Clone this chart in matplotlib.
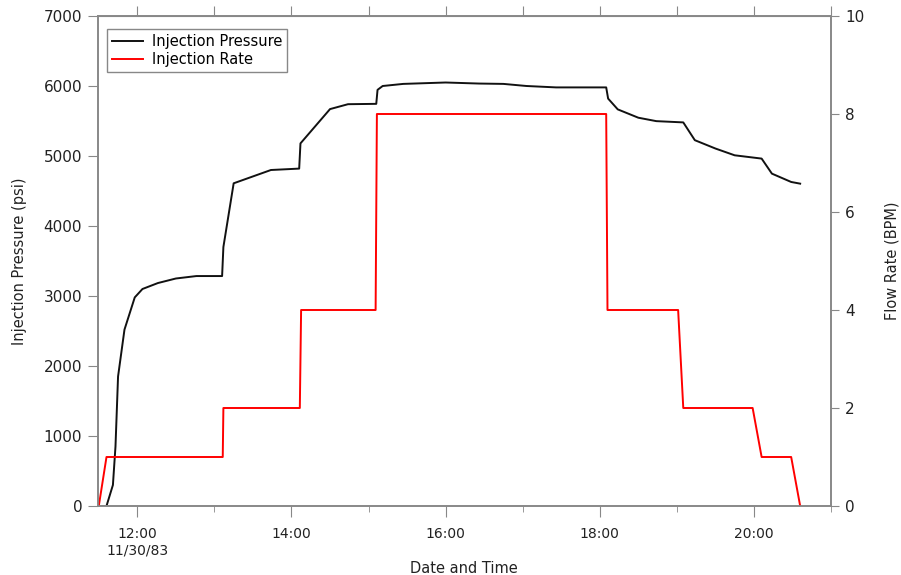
import matplotlib.pyplot as plt
import matplotlib.dates as mdates
from matplotlib.ticker import FuncFormatter, MultipleLocator
import pandas as pd

# ---------- DATA (11/30/83) ----------
pressure_time = ["11:30", "11:36", "11:41", "11:43", "11:45", "11:50", "11:58",
                 "12:04", "12:16", "12:30", "12:46", "13:06", "13:07", "13:15",
                 "13:44", "14:06", "14:07", "14:30", "14:44", "15:06", "15:07",
                 "15:11", "15:27", "16:00", "16:26", "16:45", "17:03", "17:26",
                 "18:05", "18:06:30", "18:14", "18:30", "18:44", "19:05", "19:14",
                 "19:30", "19:45", "20:06", "20:14", "20:29", "20:36"]
pressure_psi = [0, 0, 300, 850, 1850, 2520, 2980,
                3100, 3185, 3250, 3285, 3285, 3700, 4610,
                4800, 4820, 5180, 5670, 5740, 5745, 5945,
                6000, 6030, 6050, 6035, 6030, 6000, 5980,
                5980, 5820, 5666, 5547, 5498, 5480, 5226,
                5107, 5010, 4963, 4748, 4629, 4605]

rate_time = ["11:30", "11:36", "13:06:30", "13:07", "14:06:30", "14:07:30",
             "15:05:30", "15:06:30", "18:05", "18:06", "19:01", "19:05",
             "19:59", "20:06", "20:29", "20:36"]
rate_bpm = [0, 1, 1, 2, 2, 4,
            4, 8, 8, 4, 4, 2,
            2, 1, 1, 0]

day = "1983-11-30 "


def to_dt(times):
    return pd.to_datetime([day + t for t in times], format="mixed")


gray = "#888888"
txt = "#222222"
plt.rcParams["font.family"] = "DejaVu Sans"
plt.rcParams["font.size"] = 10

fig = plt.figure(figsize=(9.01, 5.75), dpi=100)
ax = fig.add_axes([97.5 / 901, 1 - 506 / 575, (831 - 97.5) / 901, (506 - 16) / 575])
ax2 = ax.twinx()

l1, = ax.plot(to_dt(pressure_time), pressure_psi, color="#111111", lw=1.4,
              label="Injection Pressure")
l2, = ax2.plot(to_dt(rate_time), rate_bpm, color="#ff0000", lw=1.4,
               label="Injection Rate")

ax.set_xlim(pd.Timestamp(day + "11:29"), pd.Timestamp(day + "21:00"))
ax.set_ylim(0, 7000)
ax2.set_ylim(0, 10)

# x ticks
ax.xaxis.set_major_locator(mdates.HourLocator(byhour=range(0, 24, 2)))
ax.xaxis.set_minor_locator(mdates.HourLocator())


def fmt_time(x, pos):
    d = mdates.num2date(x)
    s = d.strftime("%H:%M")
    if d.hour == 12:
        s += "\n" + d.strftime("%m/%d/%y")
    return s


ax.xaxis.set_major_formatter(FuncFormatter(fmt_time))
ax.tick_params(axis="x", which="major", length=8, color=gray, labelcolor=txt, pad=7)
ax.tick_params(axis="x", which="minor", length=4.5, color=gray)

# top ticks every hour
top = ax.secondary_xaxis("top")
top.xaxis.set_major_locator(mdates.HourLocator())
top.tick_params(axis="x", length=7, color=gray, labeltop=False)
top.spines["top"].set_color(gray)

ax.yaxis.set_major_locator(MultipleLocator(1000))
ax.tick_params(axis="y", length=7, color=gray, labelcolor=txt, pad=4, labelsize=11)
ax2.yaxis.set_major_locator(MultipleLocator(2))
ax2.tick_params(axis="y", length=6, color=gray, labelcolor=txt, pad=4, labelsize=11)
ax.tick_params(axis="x", labelsize=10)

for a in (ax, ax2):
    for s in a.spines.values():
        s.set_color(gray)
        s.set_linewidth(1.2)

ax.set_ylabel("Injection Pressure (psi)", color=txt, labelpad=12, fontsize=10.5)
ax2.set_ylabel("Flow Rate (BPM)", color=txt, labelpad=15, fontsize=10.5)
ax.set_xlabel("Date and Time", color=txt, labelpad=3, fontsize=10.5)

leg = ax2.legend([l1, l2], [l1.get_label(), l2.get_label()], loc="upper left",
                 bbox_to_anchor=(0.013, 0.973), borderaxespad=0, fancybox=False,
                 edgecolor=gray, framealpha=1, handlelength=2.1, handletextpad=0.6,
                 borderpad=0.35, labelspacing=0.2, fontsize=10.5)
leg.get_frame().set_linewidth(1.0)

plt.savefig("out.png", dpi=100)
